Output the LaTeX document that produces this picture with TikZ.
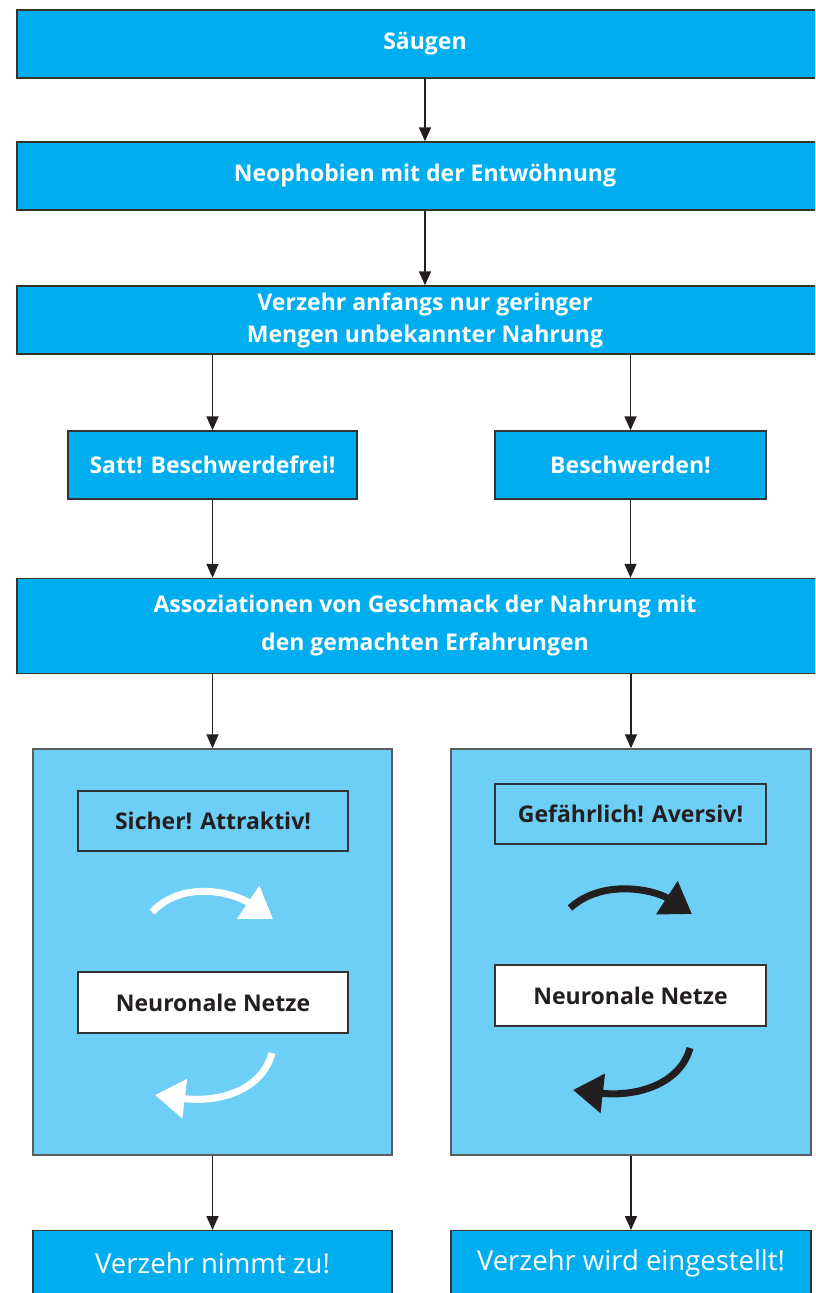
\documentclass[tikz,border=0pt]{standalone}
\usepackage{fontspec}
\setmainfont{Open Sans}
\usetikzlibrary{arrows.meta}
\definecolor{dblue}{HTML}{00AEEF}
\definecolor{lblue}{HTML}{6DCFF6}
\definecolor{edge}{HTML}{333333}
\definecolor{ink}{HTML}{231F20}
\begin{document}
\begin{tikzpicture}[x=1pt,y=-1pt,
  dbox/.style={draw=edge,line width=1.4pt,fill=dblue,text=white,font=\bfseries\fontsize{23}{32}\selectfont,align=center,inner sep=0pt},
  obox/.style={draw=edge,line width=1.4pt,fill=dblue,text=white,font=\fontsize{27.5}{30}\selectfont,align=center,inner sep=0pt},
  lbox/.style={draw=edge!80,line width=1.4pt,fill=lblue,inner sep=0pt},
  ibox/.style={draw=edge,line width=1.4pt,fill=lblue,text=ink,font=\bfseries\fontsize{23}{24}\selectfont,inner sep=0pt},
  wbox/.style={ibox,fill=white},
  conn/.style={draw=ink,line width=1.6pt,-{Triangle[length=14pt,width=12pt]}},
  cyc/.style={line width=7pt,-{Triangle[length=30pt,width=38pt]}}
]
\clip (0,0) rectangle (815,1293);
\path[use as bounding box] (0,0) rectangle (815,1293);

\node[dbox,minimum width=816pt,minimum height=68pt] (s1) at (425,44) {\raisebox{-5pt}{Säugen}};
\node[dbox,minimum width=816pt,minimum height=68pt] (s2) at (425,176) {\raisebox{-2pt}{Neophobien mit der Entwöhnung}};
\node[dbox,minimum width=816pt,minimum height=68pt] (s3) at (425,320) {Verzehr anfangs nur geringer\\Mengen unbekannter Nahrung};
\node[dbox,minimum width=289pt,minimum height=68pt] (satt) at (212.5,465) {Satt! Beschwerdefrei!};
\node[dbox,minimum width=271pt,minimum height=68pt] (besch) at (630.5,465) {Beschwerden!};
\node[dbox,minimum width=816pt,minimum height=95pt,font=\bfseries\fontsize{23}{38}\selectfont] (asso) at (425,626) {Assoziationen von Geschmack der Nahrung mit\\den gemachten Erfahrungen};

\node[lbox,minimum width=359pt,minimum height=406pt] (lb) at (212.5,952) {};
\node[lbox,minimum width=360pt,minimum height=406pt] (rb) at (631,952) {};

\node[ibox,minimum width=270pt,minimum height=60pt] (sich) at (213,821) {Sicher! Attraktiv!};
\node[ibox,minimum width=271pt,minimum height=60pt] (gef) at (630.5,814) {Gefährlich! Aversiv!};
\node[wbox,minimum width=270pt,minimum height=61pt] (nn1) at (213,1002.5) {Neuronale Netze};
\node[wbox,minimum width=271pt,minimum height=61pt] (nn2) at (630.5,995.5) {Neuronale Netze};

\node[obox,minimum width=359pt,minimum height=66pt,anchor=north] (o1) at (212.5,1230) {Verzehr nimmt zu!};
\node[obox,minimum width=360pt,minimum height=66pt,anchor=north] (o2) at (631,1230) {Verzehr wird eingestellt!};

\draw[conn] (s1) -- (s2);
\draw[conn] (s2) -- (s3);
\draw[conn] (s3.south -| satt) -- (satt.north);
\draw[conn] (s3.south -| besch) -- (besch.north);
\draw[conn] (satt) -- (satt |- asso.north);
\draw[conn] (besch) -- (besch |- asso.north);
\draw[conn] (asso.south -| lb) -- (lb.north);
\draw[conn] (asso.south -| rb) -- (rb.north);
\draw[conn] (lb) -- (o1);
\draw[conn] (rb) -- (o2);

\coordinate (wa1) at (152,912);
\coordinate (wa2) at (273,919);
\coordinate (wb1) at (272,1053);
\coordinate (wb2) at (155,1095);
\coordinate (ba1) at (570,908);
\coordinate (ba2) at (692,914);
\coordinate (bb1) at (690,1048);
\coordinate (bb2) at (573,1090);
\draw[cyc,white] (wa1) .. controls (185,878) and (236,894) .. (wa2);
\draw[cyc,white] (wb1) .. controls (262,1090) and (220,1103) .. (wb2);
\draw[cyc,ink] (ba1) .. controls (603,878) and (655,890) .. (ba2);
\draw[cyc,ink] (bb1) .. controls (680,1085) and (635,1097) .. (bb2);
\end{tikzpicture}
\end{document}
